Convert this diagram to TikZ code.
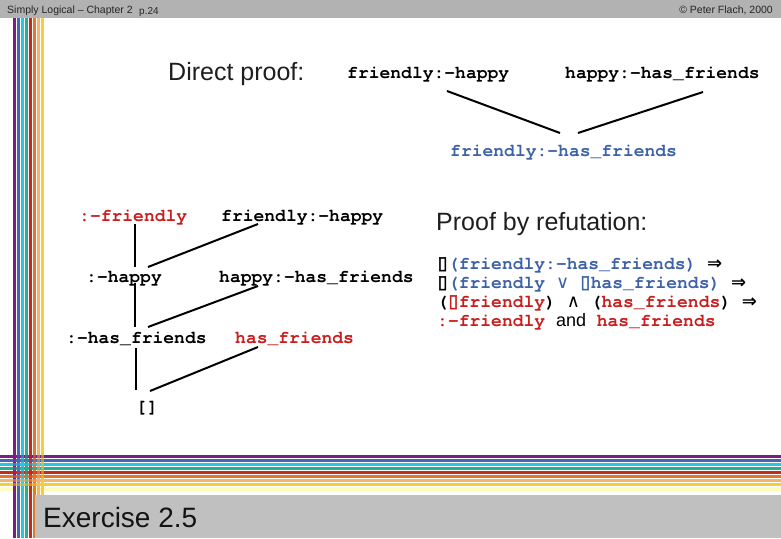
\documentclass[tikz,border=0pt]{standalone}
\usepackage{fontspec}
\setmainfont{Liberation Sans}
\newfontfamily\cour{texgyrecursor}[Extension=.otf, UprightFont=*-regular, BoldFont=*-bold]
\newfontfamily\dvs{DejaVu Sans}
\newfontfamily\tofufont{DejaVu Sans}[FakeBold=2.5]
\definecolor{hdgray}{HTML}{B2B2B2}
\definecolor{ftgray}{HTML}{C0C0C0}
\definecolor{pblue}{HTML}{3D62A8}
\definecolor{pred}{HTML}{C81E1E}
\definecolor{sA}{HTML}{7A1E82}
\definecolor{sB}{HTML}{4465B5}
\definecolor{sC}{HTML}{2EC3E6}
\definecolor{sD}{HTML}{22B08E}
\definecolor{sE}{HTML}{C8281E}
\definecolor{sF}{HTML}{E07A28}
\definecolor{sG}{HTML}{F5B46E}
\definecolor{sH}{HTML}{F2CF3C}
\newcommand{\tofu}{\makebox[10.8pt]{\tofufont\mdseries ▯}}
\newcommand{\imp}{{\dvs\bfseries ⇒}}
\tikzset{
  code/.style={font=\cour\bfseries\fontsize{18}{20}\selectfont, inner sep=0pt, anchor=base west},
  head/.style={font=\fontsize{25}{28}\selectfont, text=black!88, inner sep=0pt, anchor=base west},
  small/.style={font=\fontsize{10.5}{12}\selectfont, text=black!85, inner sep=0pt},
  link/.style={line width=2pt, black},
}
\begin{document}
\begin{tikzpicture}[x=1pt,y=-1pt]
\useasboundingbox (0,0) rectangle (781,538);
\fill[white] (0,0) rectangle (781,538);
% header
\fill[hdgray] (0,0) rectangle (781,18);
\node[small, anchor=base west] (hl) at (7,13) {Simply Logical -- Chapter 2};
\node[small, anchor=base west, font=\fontsize{10}{12}\selectfont] (hp) at (139,14) {p.24};
\node[small, anchor=base east] (hr) at (773,13) {© Peter Flach, 2000};
% horizontal stripes
\foreach \c [count=\i from 0] in {sA,sB,sC,sD,sE,sF,sG,sH}
  \fill[\c] (0,455+4*\i) rectangle (781,458+4*\i);
\fill[yellow!25] (0,487) rectangle (781,491);
% vertical stripes
\foreach \c [count=\i from 0] in {sA,sB,sC,sD,sE,sF,sG,sH}
  \fill[\c] (13+4*\i,18) rectangle (16+4*\i,538);
% blend at the crossing
\foreach \c [count=\i from 0] in {sA,sB,sC,sD,sE,sF,sG,sH}
  \fill[\c, opacity=0.5] (13,455+4*\i) rectangle (45,458+4*\i);
% footer
\fill[ftgray] (35,495) rectangle (781,538);
\node[font=\fontsize{28}{32}\selectfont, text=black!92, inner sep=0pt, anchor=base west] (ex) at (43,527) {Exercise 2.5};

% direct proof
\node[head] (dp) at (168,80) {Direct proof:};
\node[code] (t1) at (347,78) {friendly:-happy};
\node[code] (t2) at (565,78) {happy:-has\_friends};
\node[code, text=pblue] (t3) at (450,156) {friendly:-has\_friends};
\draw[link] ([shift={(100,13)}]t1.base west) -- ([shift={(110,-23)}]t3.base west);
\draw[link] ([shift={(138,14)}]t2.base west) -- ([shift={(128,-23)}]t3.base west);

% resolution tree
\node[code, text=pred] (a1) at (79,221) {:-friendly};
\node[code] (b1) at (221,221) {friendly:-happy};
\node[code] (a2) at (86,282) {:-happy};
\node[code] (b2) at (219,282) {happy:-has\_friends};
\node[code] (a3) at (66,343) {:-has\_friends};
\node[code, text=pred] (b3) at (235,343) {has\_friends};
\node[code] (a4) at (136,412) {[]};
\draw[link] ([shift={(56,3)}]a1.base west) -- ([shift={(49,-15)}]a2.base west);
\draw[link] ([shift={(62,-15)}]a2.base west) -- ([shift={(37,3)}]b1.base west);
\draw[link] ([shift={(49,1)}]a2.base west) -- ([shift={(69,-16)}]a3.base west);
\draw[link] ([shift={(82,-16)}]a3.base west) -- ([shift={(39,4)}]b2.base west);
\draw[link] ([shift={(70,5)}]a3.base west) -- ([shift={(0,-22)}]a4.base west);
\draw[link] ([shift={(14,-21)}]a4.base west) -- ([shift={(23,4)}]b3.base west);

% refutation
\node[head] (pr) at (436,230) {Proof by refutation:};
\node[code] (f1) at (437,269) {\tofu\textcolor{pblue}{(friendly:-has\_friends)} \imp};
\node[code] (f2) at (437,288) {\tofu\textcolor{pblue}{(friendly {\dvs\mdseries ∨} \tofu has\_friends)} \imp};
\node[code] (f3) at (437,307) {(\textcolor{pred}{\tofu friendly}) {\dvs\mdseries ∧} (\textcolor{pred}{has\_friends}) \imp};
\node[code] (f4) at (437,326) {\textcolor{pred}{:-friendly} {\normalfont\mdseries\fontsize{18}{20}\selectfont and} \textcolor{pred}{has\_friends}};
\end{tikzpicture}
\end{document}
